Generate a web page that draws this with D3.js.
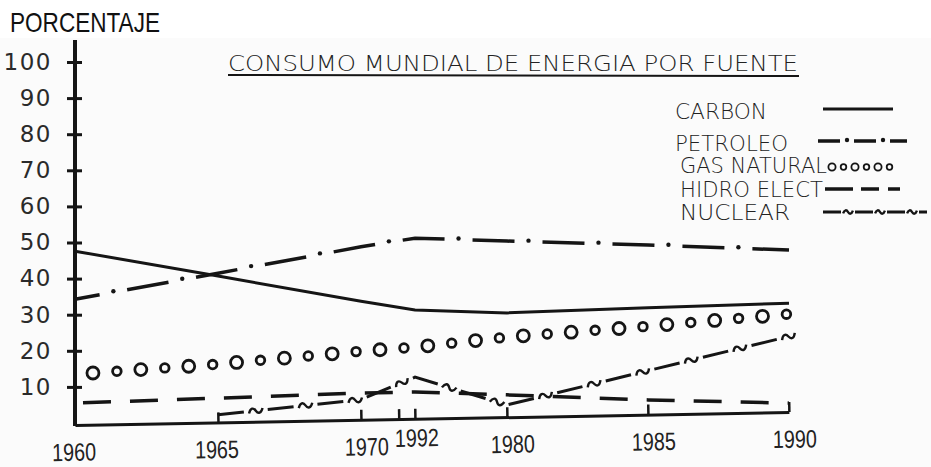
<!DOCTYPE html>
<html>
<head>
<meta charset="utf-8">
<script src="https://cdn.jsdelivr.net/npm/d3@7"></script>
<style>
body { margin: 0; background: #fff; }
svg { display: block; }
</style>
</head>
<body>
<script>
// valores (porcentaje del consumo mundial)
var years = [1960, 1965, 1970, 1972, 1980, 1985, 1990];
var carbon = [47.6, 40.7, 33.7, 31.3, 30.5, 31.9, 33.2];
var petroleo = [34.3, 41.5, 48.8, 51.2, 50.4, 49.3, 47.9];
var gasNatural = [13.5, 16.3, 19.9, 21.0, 23.8, 26.8, 30.2];
var hidroElect = [5.5, 6.9, 8.3, 8.6, 7.8, 6.4, 5.5];
var nuclear = [null, 2.3, 6.5, 12.7, 5.0, 14.5, 24.0];

// marcas del eje x tal como estan escritas (la cuarta dice 1992)
var tickYears = [1960, 1965, 1970, 1971.4, 1972, 1980, 1985, 1990];
var tickLabels = ["1960", "1965", "1970", "", "1992", "1980", "1985", "1990"];
var yTicks = [10, 20, 30, 40, 50, 60, 70, 80, 90, 100];
var seriesNames = ["CARBON", "PETROLEO", "GAS NATURAL", "HIDRO ELECT", "NUCLEAR"];

var W = 931, H = 467;
var ink = "#151515";

var svg = d3.select("body").append("svg")
    .attr("width", W)
    .attr("height", H);

// fondo del papel escaneado
svg.append("rect").attr("width", W).attr("height", H).attr("fill", "#fff");
svg.append("rect").attr("y", 38).attr("width", W).attr("height", H - 38).attr("fill", "#fbfbfb");

// el eje x esta dibujado a mano, los tramos no son iguales
var x = d3.scaleLinear()
    .domain(years)
    .range([75, 218, 361, 415, 507, 648, 789]);
var y = d3.scaleLinear()
    .domain([0, 100])
    .range([423, 62]);

// eje y
svg.append("line")
    .attr("x1", 75).attr("x2", 75)
    .attr("y1", 40).attr("y2", 426)
    .attr("stroke", ink).attr("stroke-width", 4);

var yAxis = svg.append("g")
    .attr("transform", "translate(75,0)")
    .call(d3.axisLeft(y).tickValues(yTicks).tickSize(8).tickPadding(15));
yAxis.select(".domain").remove();
yAxis.selectAll("line").attr("x1", 7).attr("stroke", ink).attr("stroke-width", 3);
yAxis.selectAll("text")
    .attr("font-family", "'DejaVu Sans', sans-serif")
    .attr("font-size", 23)
    .attr("letter-spacing", 1.5)
    .attr("fill", "#2a2a2a");

// eje x (un poco inclinado en el original)
var xAxis = svg.append("g")
    .attr("transform", "translate(0,425) rotate(-1.04 75 0)")
    .call(d3.axisBottom(x)
        .tickValues(tickYears)
        .tickFormat(function(d, i) { return tickLabels[i]; })
        .tickSize(-10)
        .tickSizeOuter(0)
        .tickPadding(18));
xAxis.select(".domain").attr("stroke", ink).attr("stroke-width", 3);
xAxis.selectAll("line").attr("stroke", ink).attr("stroke-width", 2.5);
xAxis.selectAll("text")
    .attr("font-family", "'Liberation Sans Narrow', 'Liberation Sans', sans-serif")
    .attr("font-size", 25)
    .attr("fill", "#222")
    .attr("dx", function(d, i) { return i < 2 ? -2 : 5; })
    .attr("textLength", function(d, i) { return tickLabels[i] ? 44 : null; })
    .attr("lengthAdjust", "spacingAndGlyphs")
    .filter(function(d, i) { return tickLabels[i] === "1992"; })
    .attr("y", 10)
    .attr("dx", 1);

// titulo
svg.append("text")
    .attr("x", 10).attr("y", 32)
    .attr("font-family", "'Liberation Sans Narrow', 'Liberation Sans', sans-serif")
    .attr("font-size", 28)
    .attr("textLength", 150)
    .attr("lengthAdjust", "spacingAndGlyphs")
    .attr("fill", "#111")
    .text("PORCENTAJE");

svg.append("text")
    .attr("x", 228).attr("y", 71)
    .attr("font-family", "'DejaVu Sans', sans-serif")
    .attr("font-weight", 300)
    .attr("font-size", 21)
    .attr("textLength", 570)
    .attr("lengthAdjust", "spacingAndGlyphs")
    .attr("fill", "#222")
    .text("CONSUMO MUNDIAL DE ENERGIA POR FUENTE");
svg.append("line")
    .attr("x1", 228).attr("x2", 799)
    .attr("y1", 75).attr("y2", 76)
    .attr("stroke", ink).attr("stroke-width", 2);

// recorre un path y llama cb cada "step" pixeles
function alongPath(node, start, step, cb) {
    var L = node.getTotalLength();
    for (var s = start, i = 0; s <= L + 0.5; s += step, i++) {
        var p = node.getPointAtLength(Math.min(s, L));
        var q = node.getPointAtLength(Math.min(L, s + 0.5));
        var r = node.getPointAtLength(Math.max(0, s - 0.5));
        var a = Math.atan2(q.y - r.y, q.x - r.x) * 180 / Math.PI;
        cb(p, a, i);
    }
}

var tilde = "M-7,2 C-5,-3.5 -2,-3.5 0,0 S5,3.5 7,-2";

function drawCarbon(g, d) {
    g.append("path").attr("d", d)
        .attr("fill", "none").attr("stroke", ink).attr("stroke-width", 3);
}
function drawPetroleo(g, d, dash, gap, offset) {
    var p = g.append("path").attr("d", d)
        .attr("fill", "none").attr("stroke", ink).attr("stroke-width", 3.5)
        .attr("stroke-dasharray", dash + " " + gap)
        .attr("stroke-dashoffset", offset);
    alongPath(p.node(), dash - offset + gap / 2, dash + gap, function(pt) {
        g.append("circle").attr("cx", pt.x).attr("cy", pt.y - 1).attr("r", 2.2).attr("fill", ink);
    });
}
function drawGas(g, d, start, step, rBig, rSmall, sw) {
    var p = g.append("path").attr("d", d).attr("fill", "none").attr("stroke", "none");
    alongPath(p.node(), start, step, function(pt, a, i) {
        g.append("circle").attr("cx", pt.x).attr("cy", pt.y)
            .attr("r", i % 2 ? rSmall : rBig)
            .attr("fill", "none").attr("stroke", ink).attr("stroke-width", sw);
    });
}
function drawHidro(g, d, dash, offset) {
    g.append("path").attr("d", d)
        .attr("fill", "none").attr("stroke", ink).attr("stroke-width", 3.5)
        .attr("stroke-dasharray", dash)
        .attr("stroke-dashoffset", offset);
}
function drawNuclear(g, d, dash, gap, scale) {
    var p = g.append("path").attr("d", d)
        .attr("fill", "none").attr("stroke", ink).attr("stroke-width", 3)
        .attr("stroke-dasharray", dash + " " + gap);
    alongPath(p.node(), dash + gap / 2, dash + gap, function(pt, a) {
        g.append("path").attr("d", tilde)
            .attr("transform", "translate(" + pt.x + "," + pt.y + ") rotate(" + a + ") scale(" + scale + ")")
            .attr("fill", "none").attr("stroke", ink).attr("stroke-width", 2.4 / scale);
    });
}

function lineOf(values) {
    return d3.line()
        .defined(function(d) { return d != null; })
        .x(function(d, i) { return x(years[i]); })
        .y(function(d) { return y(d); })(values);
}

var plot = svg.append("g");
drawHidro(plot, lineOf(hidroElect), "28 19", 39);
drawNuclear(plot, lineOf(nuclear), 26, 24, 1);
drawGas(plot, lineOf(gasNatural), 18, 24, 6, 4.3, 2.8);
drawPetroleo(plot, lineOf(petroleo), 42, 28, 17);
drawCarbon(plot, lineOf(carbon));

// leyenda
var legendY = [119, 151, 173, 197, 220];
var legendLen = [92, 113, 147, 143, 110];
var legend = svg.append("g");
legend.selectAll("text")
    .data(seriesNames)
    .enter().append("text")
    .attr("x", function(d, i) { return i < 2 ? 675 : 680; })
    .attr("y", function(d, i) { return legendY[i]; })
    .attr("font-family", "'DejaVu Sans', sans-serif")
    .attr("font-weight", 300)
    .attr("font-size", 21)
    .attr("textLength", function(d, i) { return legendLen[i]; })
    .attr("lengthAdjust", "spacingAndGlyphs")
    .attr("fill", "#222")
    .text(function(d) { return d; });

function seg(x1, x2, yy) { return "M" + x1 + "," + yy + "L" + x2 + "," + yy; }
drawCarbon(legend, seg(823, 893, 109));
drawPetroleo(legend, seg(818, 907, 141), 22, 14, 0);
drawGas(legend, seg(827, 895, 167), 5, 11.5, 3.6, 2.8, 1.8);
drawHidro(legend, seg(825, 900, 189), "28 8 18 9 12 30", 0);
drawNuclear(legend, seg(823, 927, 212), 18, 14, 0.7);
</script>
</body>
</html>
